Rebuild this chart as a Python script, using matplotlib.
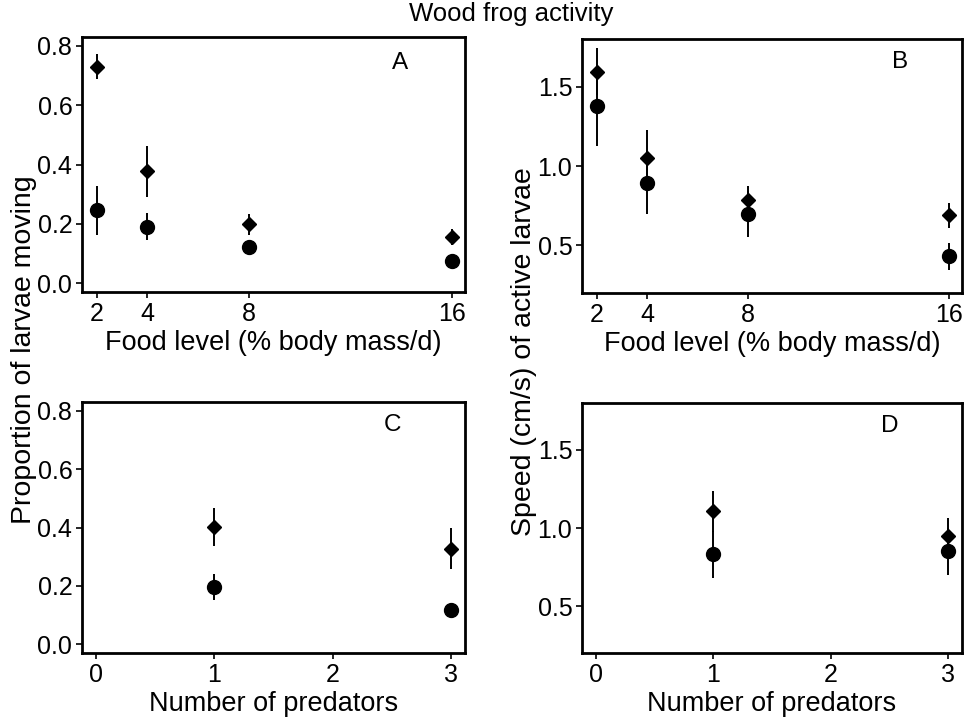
import matplotlib
matplotlib.use('Agg')
import matplotlib.pyplot as plt

plt.rcParams['font.family'] = ['Liberation Sans', 'DejaVu Sans']

# Panels A/B: food level (% body mass/d)
food = [2, 4, 8, 16]
# Panels C/D: number of predators
preds = [1, 3]

# A: proportion of larvae moving
a_diam = [0.73, 0.377, 0.198, 0.154]
a_diam_err = [0.043, 0.086, 0.035, 0.027]
a_circ = [0.245, 0.19, 0.122, 0.075]
a_circ_err = [0.082, 0.046, 0.015, 0.015]

# B: speed of active larvae
b_diam = [1.595, 1.049, 0.785, 0.69]
b_diam_err = [0.15, 0.175, 0.09, 0.08]
b_circ = [1.378, 0.895, 0.70, 0.43]
b_circ_err = [0.25, 0.2, 0.145, 0.085]

# C: proportion moving vs predators
c_diam = [0.403, 0.327]
c_diam_err = [0.065, 0.07]
c_circ = [0.196, 0.119]
c_circ_err = [0.045, 0.012]

# D: speed vs predators
d_diam = [1.107, 0.946]
d_diam_err = [0.13, 0.12]
d_circ = [0.833, 0.85]
d_circ_err = [0.15, 0.15]

W, H = 964, 719
fig = plt.figure(figsize=(W / 100, H / 100), dpi=100)


def px_axes(left, top, right, bottom):
    return fig.add_axes([left / W, 1 - bottom / H, (right - left) / W, (bottom - top) / H])


def style(ax, letter, lx, ly):
    for s in ax.spines.values():
        s.set_linewidth(2.0)
    ax.tick_params(direction='out', length=4, width=1.2, labelsize=18, pad=3,
                   top=False, right=False)
    ax.text(lx, ly, letter, transform=ax.transAxes, fontsize=17.5,
            ha='center', va='center')


def draw(ax, x, yd, ed, yc, ec):
    ax.errorbar(x, yc, yerr=ec, fmt='o', color='black', ms=10, elinewidth=1.4,
                capsize=0, zorder=3)
    ax.errorbar(x, yd, yerr=ed, fmt='D', color='black', ms=7.3, elinewidth=1.4,
                capsize=0, zorder=4)


axA = px_axes(82, 37, 465, 292)
axB = px_axes(582, 39, 962, 293)
axC = px_axes(82, 402, 465, 653)
axD = px_axes(582, 403, 962, 653)

draw(axA, food, a_diam, a_diam_err, a_circ, a_circ_err)
draw(axB, food, b_diam, b_diam_err, b_circ, b_circ_err)
draw(axC, preds, c_diam, c_diam_err, c_circ, c_circ_err)
draw(axD, preds, d_diam, d_diam_err, d_circ, d_circ_err)

for ax in (axA, axB):
    ax.set_xlim(1.42, 16.52)
    ax.set_xticks(food)
    ax.set_xlabel('Food level (% body mass/d)', fontsize=19.5, labelpad=3)
for ax in (axC, axD):
    ax.set_xlim(-0.12, 3.12)
    ax.set_xticks([0, 1, 2, 3])
    ax.set_xlabel('Number of predators', fontsize=19.5, labelpad=3)

for ax in (axA, axC):
    ax.set_ylim(-0.03, 0.83)
    ax.set_yticks([0.0, 0.2, 0.4, 0.6, 0.8])
    ax.set_yticklabels(['0.0', '0.2', '0.4', '0.6', '0.8'])
for ax in (axB, axD):
    ax.set_ylim(0.2, 1.8)
    ax.set_yticks([0.5, 1.0, 1.5])
    ax.set_yticklabels(['0.5', '1.0', '1.5'])

style(axA, 'A', 0.83, 0.90)
style(axB, 'B', 0.837, 0.91)
style(axC, 'C', 0.81, 0.907)
style(axD, 'D', 0.81, 0.91)

fig.text(24 / W, 1 - 350 / H, 'Proportion of larvae moving', rotation=90,
         fontsize=20.5, ha='center', va='center')
fig.text(524 / W, 1 - 352 / H, 'Speed (cm/s) of active larvae', rotation=90,
         fontsize=20.5, ha='center', va='center')
fig.text(511 / W, 1 - 14 / H, 'Wood frog activity', fontsize=18.5,
         ha='center', va='center')

fig.savefig('out.png', dpi=100)
